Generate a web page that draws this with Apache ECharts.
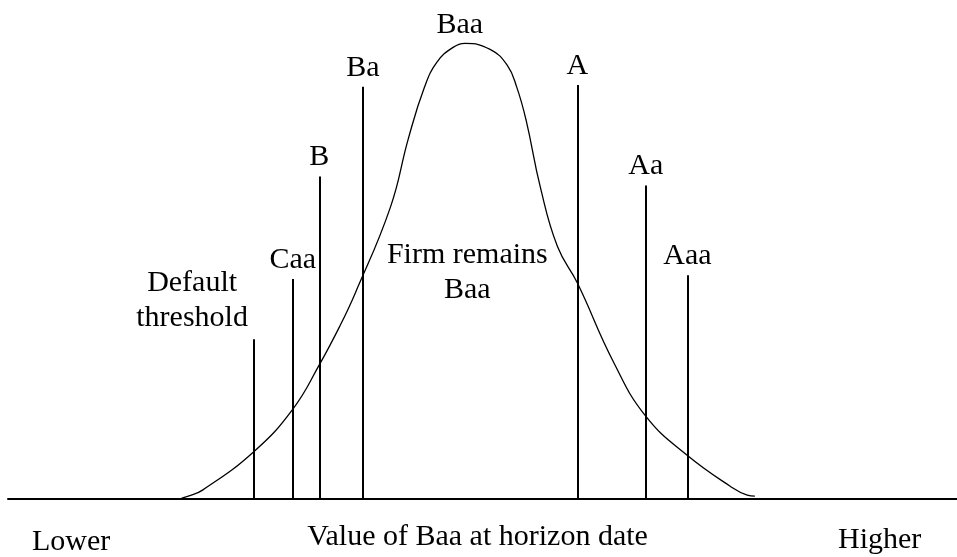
<!DOCTYPE html>
<html>
<head>
<meta charset="utf-8">
<style>
  html, body { margin: 0; padding: 0; background: #fff; }
  #chart { width: 957px; height: 557px; }
</style>
<script src="https://cdn.jsdelivr.net/npm/echarts@6/dist/echarts.min.js"></script>
</head>
<body>
<div id="chart"></div>
<script>
// distribution of firm value at the horizon
var curveX = [18.3, 19.0, 20.5, 25.9, 30.0, 32.8, 35.0, 36.6, 40.3, 42.2, 43.9, 45.2, 46.9, 48.2,
  50.8, 52.6, 53.6, 54.6, 56.1, 57.9, 60.0, 63.8, 67.2, 71.6, 76.1, 77.9, 78.7];
var curveY = [0.2, 0.6, 1.8, 9.6, 18.2, 27.2, 35.2, 41.8, 59.2, 73.2, 83.6, 88.6, 91.6, 92.4,
  91.2, 88.0, 83.6, 76.8, 63.2, 51.2, 43.8, 27.8, 16.8, 8.8, 2.6, 0.8, 0.6];

// rating thresholds
var ratingNames = ['', 'Caa', 'B', 'Ba', 'A', 'Aa', 'Aaa'];
var ratingX = [25.9, 30.0, 32.8, 37.4, 60.0, 67.2, 71.6];
var ratingTop = [32.4, 44.6, 65.4, 83.6, 84.0, 63.6, 45.4];

// free-standing notes
var noteText = ['Baa', 'Default\nthreshold', 'Firm remains\nBaa'];
var noteX = [47.6, 19.4, 48.4];
var noteY = [96.2, 40.2, 46.0];

var xName = 'Value of Baa at horizon date';
var endLabels = ['Lower', 'Higher'];

var font = "'Liberation Serif', 'Times New Roman', serif";
var myChart = echarts.init(document.getElementById('chart'));

var curveData = curveX.map(function (x, i) { return [x, curveY[i]]; });
var lineData = ratingX.map(function (x, i) {
  return [
    { coord: [x, 0], name: ratingNames[i] },
    { coord: [x, ratingTop[i]] }
  ];
});
var noteData = noteX.map(function (x, i) { return { value: [x, noteY[i]], name: noteText[i] }; });

var option = {
  backgroundColor: '#fff',
  animation: false,
  grid: { left: 8, right: 0, top: 6, bottom: 51 },
  xAxis: {
    type: 'value',
    min: 0,
    max: 100,
    axisLine: { show: true, lineStyle: { color: '#000', width: 2 } },
    axisTick: { show: false },
    axisLabel: { show: false },
    splitLine: { show: false },
    name: xName,
    nameLocation: 'middle',
    nameGap: 23,
    nameTextStyle: { fontFamily: font, fontSize: 30, color: '#000', padding: [0, 10, 0, 0] }
  },
  yAxis: {
    type: 'value',
    min: 0,
    max: 100,
    show: false
  },
  graphic: [
    { type: 'text', left: 32, top: 527, style: { text: endLabels[0], font: '30px ' + font, fill: '#000' } },
    { type: 'text', left: 838, top: 525, style: { text: endLabels[1], font: '30px ' + font, fill: '#000' } }
  ],
  series: [
    {
      type: 'line',
      data: curveData,
      smooth: 0.45,
      symbol: 'none',
      lineStyle: { color: '#000', width: 1.3 },
      z: 3,
      markLine: {
        silent: true,
        symbol: 'none',
        animation: false,
        lineStyle: { color: '#000', width: 2, type: 'solid' },
        label: {
          show: true,
          position: 'end',
          distance: 4,
          formatter: '{b}',
          fontFamily: font,
          fontSize: 30,
          color: '#000'
        },
        emphasis: { disabled: true },
        data: lineData
      }
    },
    {
      type: 'scatter',
      data: noteData,
      symbolSize: 0,
      silent: true,
      itemStyle: { opacity: 1, color: '#000' },
      label: {
        show: true,
        position: 'inside',
        formatter: '{b}',
        fontFamily: font,
        fontSize: 30,
        lineHeight: 35,
        align: 'center',
        color: '#000',
        opacity: 1
      }
    }
  ]
};

myChart.setOption(option);
</script>
</body>
</html>
